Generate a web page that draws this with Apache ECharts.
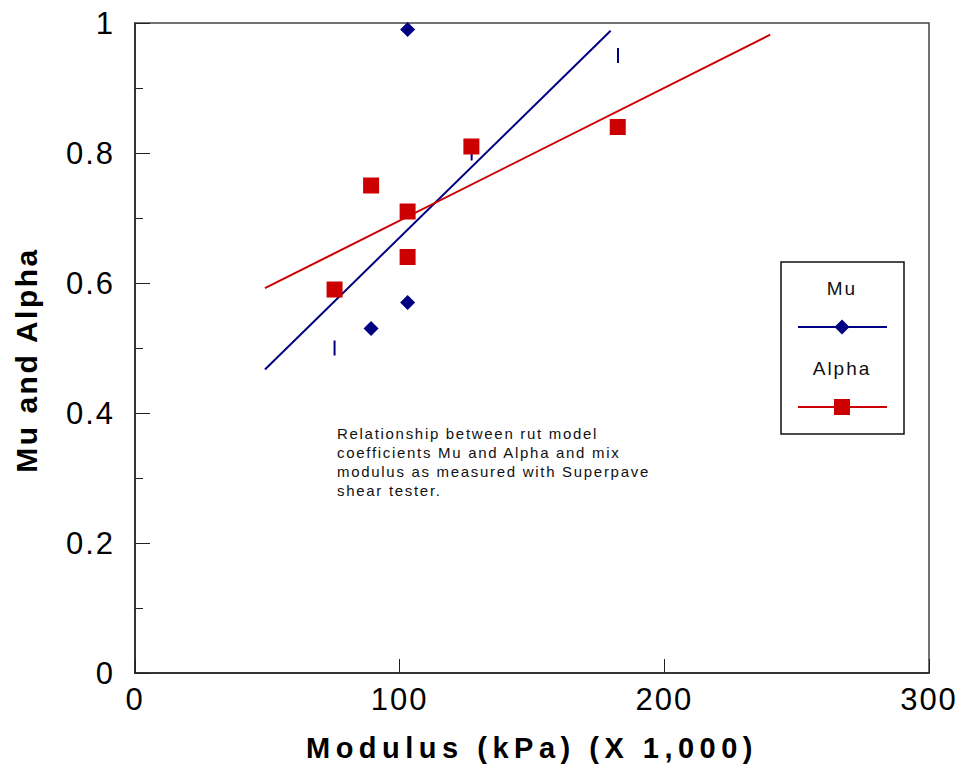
<!DOCTYPE html>
<html>
<head>
<meta charset="utf-8">
<title>Mu and Alpha vs Modulus</title>
<script src="https://cdn.jsdelivr.net/npm/echarts@6/dist/echarts.min.js"></script>
<style>
  html, body { margin: 0; padding: 0; background: #ffffff; }
  #chart { width: 962px; height: 775px; }
  /* tracked lettering, keyed by font size */
  #chart text[style*="31px"] { letter-spacing: 2px; }
  #chart text[style*="29px"] { letter-spacing: 5.5px; }
  #chart text[style*="30px"] { letter-spacing: 2.5px; }
  #chart text[style*="19px"] { letter-spacing: 2px; }
  #chart text[style*="15px"] { letter-spacing: 1.7px; }
</style>
</head>
<body>
<div id="chart"></div>
<script>
// Modulus (kPa x 1,000) and fitted rut model coefficients
const alphaX = [75.4, 89.2, 103.0, 103.0, 127.1, 182.4];
const alphaY = [0.59, 0.75, 0.71, 0.64, 0.81, 0.84];
const muX = [89.2, 103.0, 103.0];
const muY = [0.53, 0.57, 0.99];
// Mu readings drawn as short dashes
const muDashX = [75.4, 127.2, 182.5];
const muDashY = [0.50, 0.80, 0.95];
// Linear trend lines (end points)
const muFitX = [49.1, 179.7];
const muFitY = [0.467, 0.988];
const alphaFitX = [49.1, 240.0];
const alphaFitY = [0.592, 0.982];
// Axis ticks
const xTicks = [0, 100, 200, 300];
const yTicks = [0, 0.2, 0.4, 0.6, 0.8, 1];

const MU_COLOR = '#000080';
const ALPHA_COLOR = '#cc0000';
const SANS = '"Liberation Sans", Arial, Helvetica, sans-serif';

const pairs = (xs, ys) => xs.map((x, i) => [x, ys[i]]);

const chart = echarts.init(document.getElementById('chart'), null, { renderer: 'svg' });

chart.setOption({
  animation: false,
  backgroundColor: '#ffffff',
  grid: {
    left: 135, right: 33, top: 23, bottom: 102,
    show: true, borderColor: '#444444', borderWidth: 1.5, backgroundColor: 'transparent'
  },
  xAxis: {
    type: 'value',
    min: xTicks[0], max: xTicks[xTicks.length - 1], interval: 100,
    name: 'Modulus (kPa) (X 1,000)',
    nameLocation: 'middle',
    nameGap: 60,
    nameTextStyle: { fontFamily: SANS, fontSize: 29, fontWeight: 'bold', color: '#000' },
    axisLine: { show: true, onZero: false, lineStyle: { color: '#222', width: 1.5 } },
    axisTick: { show: true, inside: true, length: 14, lineStyle: { color: '#222', width: 1 } },
    axisLabel: {
      margin: 11, fontFamily: SANS, fontSize: 31, color: '#000',
      formatter: v => String(v)
    },
    splitLine: { show: false }
  },
  yAxis: {
    type: 'value',
    min: yTicks[0], max: yTicks[yTicks.length - 1], interval: 0.2,
    axisLine: { show: true, onZero: false, lineStyle: { color: '#222', width: 1.5 } },
    axisTick: { show: true, inside: true, length: 15, lineStyle: { color: '#222', width: 1 } },
    minorTick: { show: true, splitNumber: 2, length: 8, lineStyle: { color: '#222', width: 1 } },
    axisLabel: {
      margin: 20, fontFamily: SANS, fontSize: 31, color: '#000',
      formatter: v => String(Math.round(v * 10) / 10)
    },
    splitLine: { show: false },
    minorSplitLine: { show: false }
  },
  series: [
    {
      name: 'Mu fit', type: 'line', data: pairs(muFitX, muFitY),
      symbol: 'none', silent: true, z: 2,
      lineStyle: { color: MU_COLOR, width: 2 }
    },
    {
      name: 'Alpha fit', type: 'line', data: pairs(alphaFitX, alphaFitY),
      symbol: 'none', silent: true, z: 2,
      lineStyle: { color: ALPHA_COLOR, width: 2 }
    },
    {
      name: 'Mu dash', type: 'scatter', data: pairs(muDashX, muDashY),
      symbol: 'rect', symbolSize: [2, 15], z: 3,
      itemStyle: { color: MU_COLOR, opacity: 1 }
    },
    {
      name: 'Alpha', type: 'scatter', data: pairs(alphaX, alphaY),
      symbol: 'rect', symbolSize: 16, z: 4,
      itemStyle: { color: ALPHA_COLOR, opacity: 1 }
    },
    {
      name: 'Mu', type: 'scatter', data: pairs(muX, muY),
      symbol: 'diamond', symbolSize: 15, z: 5,
      itemStyle: { color: MU_COLOR, opacity: 1 }
    }
  ],
  graphic: [
    // vertical axis title
    { type: 'text', x: 26, y: 360, rotation: Math.PI / 2, z: 11,
      style: { text: 'Mu and Alpha', fontFamily: SANS, fontSize: 30, fontWeight: 'bold', fill: '#000',
               align: 'center', verticalAlign: 'middle' } },
    // legend box
    { type: 'rect', shape: { x: 781, y: 262, width: 123, height: 172 },
      style: { fill: '#fff', stroke: '#111', lineWidth: 1.5 }, z: 10 },
    { type: 'text', x: 842, y: 288, z: 11,
      style: { text: 'Mu', fontFamily: SANS, fontSize: 19, fill: '#111', align: 'center', verticalAlign: 'middle' } },
    { type: 'line', shape: { x1: 798, y1: 327, x2: 887, y2: 327 }, z: 11,
      style: { stroke: MU_COLOR, lineWidth: 2 } },
    { type: 'polygon', shape: { points: [[842, 319.5], [849.5, 327], [842, 334.5], [834.5, 327]] }, z: 12,
      style: { fill: MU_COLOR } },
    { type: 'text', x: 842, y: 368, z: 11,
      style: { text: 'Alpha', fontFamily: SANS, fontSize: 19, fill: '#111', align: 'center', verticalAlign: 'middle' } },
    { type: 'line', shape: { x1: 798, y1: 407, x2: 887, y2: 407 }, z: 11,
      style: { stroke: ALPHA_COLOR, lineWidth: 2 } },
    { type: 'rect', shape: { x: 834, y: 399, width: 16, height: 16 }, z: 12,
      style: { fill: ALPHA_COLOR } },
    // caption inside the plot
    { type: 'text', x: 337, y: 424, z: 11,
      style: {
        text: 'Relationship between rut model\ncoefficients Mu and Alpha and mix\nmodulus as measured with Superpave\nshear tester.',
        fontFamily: SANS, fontSize: 15, lineHeight: 19, fill: '#111', align: 'left', verticalAlign: 'top'
      } }
  ]
});
</script>
</body>
</html>
